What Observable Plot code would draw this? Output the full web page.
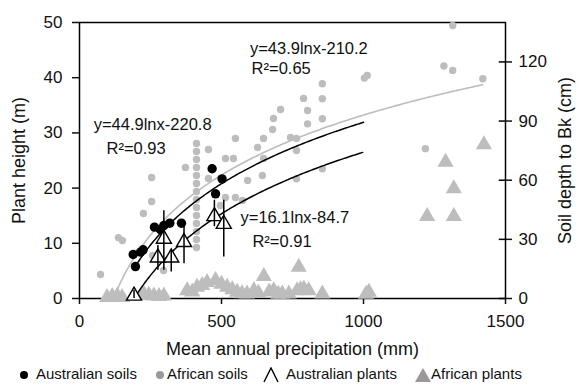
<!DOCTYPE html>
<html><head><meta charset="utf-8">
<script src="https://cdn.jsdelivr.net/npm/d3@7"></script>
<script src="https://cdn.jsdelivr.net/npm/@observablehq/plot@0.6"></script>
<style>
body{margin:0;background:#fff;font-family:"Liberation Sans",Arial,Helvetica,sans-serif;}
#chart{position:relative;width:580px;height:390px;overflow:hidden;}
#chart svg{display:block;}
.leg{position:absolute;top:362px;height:24px;line-height:24px;font-size:15px;color:#111;white-space:nowrap;}
.sym{position:absolute;top:367px;}
</style></head><body><div id="chart"></div>
<script>
// ---------- data ----------
// Australian soils: precipitation (mm), soil depth to Bk (cm)
const ausSoilPrecip = [189, 197, 215, 224, 264, 285, 297, 318, 359, 467, 502, 479];
const ausSoilDepth  = [22.3, 16.2, 23.5, 24.7, 36.2, 34.9, 37.0, 38.2, 38.2, 65.8, 60.7, 53.1];

// African soils: precipitation (mm), soil depth to Bk (cm)
const afrSoilPrecip = [74, 137, 151, 225, 254, 254, 257, 296,
  412, 412, 412, 412, 412, 412, 412, 412, 412, 412, 412, 412, 412, 412,
  454, 373, 549, 514, 542, 627, 648, 683, 708, 644, 855, 789, 855, 803, 855, 803, 764, 764, 855, 764,
  1013, 1003, 1314, 1283, 1314, 1420, 1218,
  680, 743, 648, 592, 514, 549, 574, 454, 496];
const afrSoilDepth  = [12.2, 30.9, 29.4, 43.1, 61.4, 49.2, 21.8, 14.2,
  78.6, 74.6, 70.5, 66.5, 62.4, 58.3, 54.3, 50.2, 46.2, 42.1, 38.1, 34.0, 29.9, 25.9,
  75.6, 66.5, 81.2, 71.0, 71.0, 76.6, 81.2, 91.3, 95.9, 62.4, 108.9, 101.5, 101.3, 95.4, 91.2, 88.6, 81.2, 75.1, 65.8, 60.7,
  113.1, 111.8, 138.5, 117.9, 115.7, 111.5, 76.0,
  85.7, 81.7, 71.0, 59.9, 51.2, 51.2, 49.7, 60.9, 47.2];

// Australian plants: precipitation (mm), height (m), error bar low/high (m)
const ausPlantPrecip = [192, 276, 297, 323, 368, 475, 508];
const ausPlantHeight = [0.5, 7.4, 10.8, 7.4, 10.2, 14.9, 13.5];
const ausPlantLow    = [0, 5.1, 5.1, 4.8, 6.3, 13.0, 7.5];
const ausPlantHigh   = [1.5, 9.6, 15.9, 8.7, 13.6, 17.8, 17.8];

// African plants: precipitation (mm), height (m)
const afrPlantPrecip = [97, 115, 133, 150, 226, 244, 262, 280, 297, 379, 397, 414, 432, 449, 479, 500, 520, 538, 555,
  572, 590, 614, 630, 649, 668, 684, 700, 714, 737,
  766, 778, 790, 807, 855, 1019, 1009, 772, 1224, 1318, 1318, 1289, 1424];
const afrPlantHeight = [0.2, 0.4, 0.5, 0.2, 0.85, 0.6, 0.5, 0.4, 0.5, 1.45, 1.2, 2.05, 2.4, 2.95, 3.3, 2.6, 2.05, 1.6, 1.15,
  0.9, 0.85, 1.45, 1.0, 4.0, 1.2, 1.45, 0.8, 0.85, 0.85,
  1.45, 1.6, 1.75, 1.45, 0.85, 1.15, 0.8, 5.7, 14.9, 14.9, 19.9, 24.7, 27.9];

// Fitted curves y = a ln x + b (soils in cm, plants in m)
const fitNames = ["Australian soils", "African soils", "Australian plants"];
const fitA     = [44.9, 43.9, 16.1];
const fitB     = [-220.8, -210.2, -84.7];
const fitFrom  = [190, 120, 192];
const fitTo    = [1000, 1420, 1000];
const fitIsSoil = [true, true, false];

// Annotations
const annoText = ["y=43.9lnx-210.2", "R\u00b2=0.65", "y=44.9lnx-220.8", "R\u00b2=0.93", "y=16.1lnx-84.7", "R\u00b2=0.91"];
const annoX    = [600, 606, 50, 95, 567, 609];
const annoY    = [45.3, 41.7, 31.4, 27.1, 14.7, 10.2];

// Axis ticks
const xTicks = [0, 500, 1000, 1500];
const yTicks = [0, 10, 20, 30, 40, 50];
const soilTicks = [0, 30, 60, 90, 120];
const CM_PER_M = 2.8; // right axis (cm) vs left axis (m)

// ---------- build ----------
const ausSoils = ausSoilPrecip.map((x, i) => ({x, y: ausSoilDepth[i] / CM_PER_M}));
const afrSoils = afrSoilPrecip.map((x, i) => ({x, y: afrSoilDepth[i] / CM_PER_M}));
const ausPlants = ausPlantPrecip.map((x, i) => ({x, y: ausPlantHeight[i], lo: ausPlantLow[i], hi: ausPlantHigh[i]}));
const afrPlants = afrPlantPrecip.map((x, i) => ({x, y: afrPlantHeight[i]}));
const curves = fitNames.map((name, k) =>
  d3.range(fitFrom[k], fitTo[k] + 1, 5).map(x => {
    const v = fitA[k] * Math.log(x) + fitB[k];
    return {name, x, y: fitIsSoil[k] ? v / CM_PER_M : v};
  }));
const annos = annoText.map((t, i) => ({t, x: annoX[i], y: annoY[i]}));

const FONT = '"Liberation Sans", Arial, Helvetica, sans-serif';
const GRAY = "#bdbdbd";

const chart = Plot.plot({
  width: 580, height: 362,
  marginLeft: 79, marginRight: 75, marginTop: 22, marginBottom: 64,
  style: {fontFamily: FONT, fontSize: "17px", color: "#111", background: "#fff", overflow: "visible"},
  x: {domain: [0, 1500]},
  y: {domain: [0, 50]},
  marks: [
    Plot.frame({stroke: "#000", strokeWidth: 1.5}),
    Plot.axisX(xTicks, {tickSize: 6, tickPadding: 10, label: null, strokeWidth: 1.5, fontSize: 17, tickFormat: d => String(d)}),
    Plot.axisY(yTicks, {tickSize: 7, tickPadding: 10, label: null, strokeWidth: 1.5, fontSize: 17}),
    Plot.axisY(soilTicks.map(v => v / CM_PER_M), {anchor: "right", tickSize: 6, tickPadding: 7, label: null,
      strokeWidth: 1.5, fontSize: 17, tickFormat: v => Math.round(v * CM_PER_M)}),
    Plot.ruleY(soilTicks.map(v => v / CM_PER_M), {x1: 1478, x2: 1500, stroke: "#000", strokeWidth: 1.5}),
    // African soils
    Plot.dot(afrSoils, {x: "x", y: "y", r: 3.7, fill: GRAY, stroke: "none"}),
    // African plants
    Plot.dot(afrPlants, {x: "x", y: "y", r: 6, symbol: "triangle", fill: GRAY, stroke: "none"}),
    // curves
    Plot.line(curves[1], {x: "x", y: "y", stroke: GRAY, strokeWidth: 1.6}),
    Plot.line(curves[0], {x: "x", y: "y", stroke: "#000", strokeWidth: 1.5}),
    Plot.line(curves[2], {x: "x", y: "y", stroke: "#000", strokeWidth: 1.5}),
    // Australian soils
    Plot.dot(ausSoils, {x: "x", y: "y", r: 4.7, fill: "#000", stroke: "none"}),
    // Australian plants
    Plot.dot(ausPlants, {x: "x", y: "y", r: 5.6, symbol: "triangle", fill: "#fff", stroke: "#000", strokeWidth: 1.4}),
    Plot.ruleX(ausPlants, {x: "x", y1: "lo", y2: "hi", stroke: "#000", strokeWidth: 1.5}),
    // annotations
    Plot.text(annos, {x: "x", y: "y", text: "t", textAnchor: "start", lineAnchor: "middle", fontSize: 16.5, fill: "#111"}),
    // axis titles
    Plot.text(["Plant height (m)"], {frameAnchor: "left", dx: -60, rotate: -90, textAnchor: "middle", lineAnchor: "middle", fontSize: 18}),
    Plot.text(["Soil depth to Bk (cm)"], {frameAnchor: "right", dx: 60, rotate: -90, textAnchor: "middle", lineAnchor: "middle", fontSize: 18}),
    Plot.text(["Mean annual precipitation (mm)"], {frameAnchor: "bottom", dy: 51, textAnchor: "middle", lineAnchor: "middle", fontSize: 18})
  ]
});
const root = document.getElementById("chart");
root.appendChild(chart);

// legend (below the SVG)
const legendItems = [
  {label: "Australian soils", sym: "dot", color: "#000", symX: 19, textX: 36},
  {label: "African soils", sym: "dot", color: "#999", symX: 155, textX: 167},
  {label: "Australian plants", sym: "caret", color: "#000", symX: 263, textX: 286},
  {label: "African plants", sym: "tri", color: "#999", symX: 415, textX: 431}
];
for (const it of legendItems) {
  const s = document.createElementNS("http://www.w3.org/2000/svg", "svg");
  s.setAttribute("width", 16); s.setAttribute("height", 16);
  s.setAttribute("class", "sym");
  s.style.left = it.symX + "px";
  let shape;
  if (it.sym === "dot") {
    shape = document.createElementNS("http://www.w3.org/2000/svg", "circle");
    shape.setAttribute("cx", 5); shape.setAttribute("cy", 8); shape.setAttribute("r", 4);
    shape.setAttribute("fill", it.color);
  } else if (it.sym === "caret") {
    shape = document.createElementNS("http://www.w3.org/2000/svg", "path");
    shape.setAttribute("d", "M1,15 L8,1 L15,15");
    shape.setAttribute("fill", "none"); shape.setAttribute("stroke", it.color); shape.setAttribute("stroke-width", 1.4);
  } else {
    shape = document.createElementNS("http://www.w3.org/2000/svg", "path");
    shape.setAttribute("d", "M0,15 L8,1 L16,15 Z");
    shape.setAttribute("fill", it.color);
  }
  s.appendChild(shape);
  root.appendChild(s);
  const t = document.createElement("div");
  t.className = "leg";
  t.style.left = it.textX + "px";
  t.textContent = it.label;
  root.appendChild(t);
}
</script>
</body></html>
